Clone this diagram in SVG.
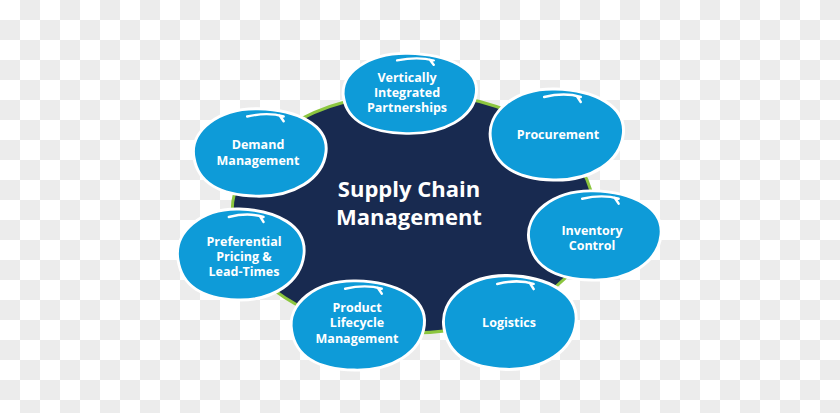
<svg xmlns="http://www.w3.org/2000/svg" width="840" height="413" viewBox="0 0 840 413">
  <defs>
    <pattern id="checker" width="40" height="40" patternUnits="userSpaceOnUse">
      <rect width="40" height="40" fill="#ffffff"/>
      <rect x="20" y="0" width="20" height="20" fill="#ececec"/>
      <rect x="0" y="20" width="20" height="20" fill="#ececec"/>
    </pattern>
    <path id="blob" d="M -67,6 C -72,-22 -42,-46 -2,-45 C 38,-44 70,-28 67,0 C 64,28 34,47 -4,46 C -40,45 -63,32 -67,6 Z"/>
    <path id="shine" d="M -13,-37 C 0,-40 14,-40 24,-37 M 20,-38 L 24,-32"/>
  </defs>
  <style>
    .blob { fill: #0e9bd8; stroke: #ffffff; stroke-width: 3; }
    .shine { fill: none; stroke: #ffffff; stroke-width: 2.5; stroke-linecap: round; }
    .lbl { font-family: "Open Sans", "Liberation Sans", sans-serif; font-weight: 700; font-size: 12.5px; fill: #ffffff; text-anchor: middle; }
    .title { font-family: "Open Sans", "Liberation Sans", sans-serif; font-weight: 700; font-size: 22px; fill: #ffffff; text-anchor: middle; }
  </style>
  <rect width="840" height="413" fill="url(#checker)"/>
  <g id="connectors"></g>
  <g id="center">
    <ellipse cx="413" cy="213" rx="181" ry="120" fill="#182a50" stroke="#8cc63f" stroke-width="3"/>
    <text class="title" x="409" y="197">Supply Chain</text>
    <text class="title" x="409" y="225">Management</text>
  </g>
  <g id="vertically-integrated">
    <g transform="translate(410,93) scale(0.99,0.88)"><use href="#blob" class="blob"/><use href="#shine" class="shine"/></g>
    <text class="lbl" x="407" y="82">Vertically</text>
    <text class="lbl" x="407" y="97">Integrated</text>
    <text class="lbl" x="407" y="112">Partnerships</text>
  </g>
  <g id="procurement">
    <g transform="translate(557,134) scale(0.99,1)"><use href="#blob" class="blob"/><use href="#shine" class="shine"/></g>
    <text class="lbl" x="558" y="139">Procurement</text>
  </g>
  <g id="inventory-control">
    <g transform="translate(595,235) scale(0.985,0.98)"><use href="#blob" class="blob"/><use href="#shine" class="shine"/></g>
    <text class="lbl" x="592" y="235">Inventory</text>
    <text class="lbl" x="592" y="250">Control</text>
  </g>
  <g id="logistics">
    <g transform="translate(510,322) scale(0.985,1.03)"><use href="#blob" class="blob"/><use href="#shine" class="shine"/></g>
    <text class="lbl" x="509" y="327">Logistics</text>
  </g>
  <g id="product-lifecycle">
    <g transform="translate(358,325) scale(0.99,0.98)"><use href="#blob" class="blob"/><use href="#shine" class="shine"/></g>
    <text class="lbl" x="357" y="312">Product</text>
    <text class="lbl" x="357" y="327">Lifecycle</text>
    <text class="lbl" x="357" y="343">Management</text>
  </g>
  <g id="preferential-pricing">
    <g transform="translate(241,254) scale(0.94,1)"><use href="#blob" class="blob"/><use href="#shine" class="shine"/></g>
    <text class="lbl" x="244" y="246">Preferential</text>
    <text class="lbl" x="244" y="261">Pricing &amp;</text>
    <text class="lbl" x="244" y="276">Lead-Times</text>
  </g>
  <g id="demand-management">
    <g transform="translate(260,152) scale(0.985,0.96)"><use href="#blob" class="blob"/><use href="#shine" class="shine"/></g>
    <text class="lbl" x="258" y="149">Demand</text>
    <text class="lbl" x="258" y="165">Management</text>
  </g>
</svg>
